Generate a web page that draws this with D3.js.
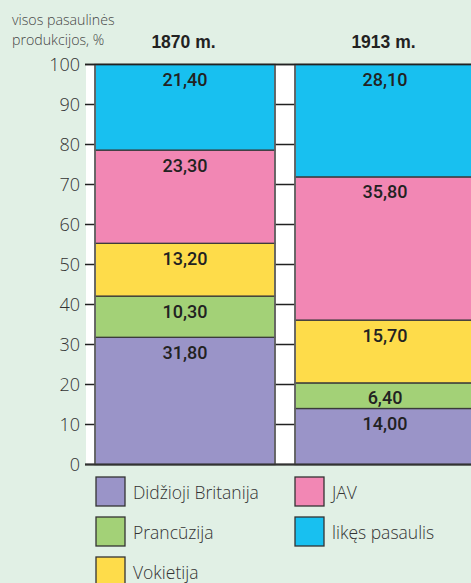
<!DOCTYPE html>
<html>
<head>
<meta charset="utf-8">
<script src="https://cdn.jsdelivr.net/npm/d3@7"></script>
<style>
  html, body { margin: 0; padding: 0; background: #e1f0e5; }
  svg { display: block; }
</style>
</head>
<body>
<div id="chart"></div>
<script>
// stulpelių kategorijos / bar categories
const YEARS = ['1870 m.', '1913 m.'];
// serijų pavadinimai (nuo apačios į viršų) / series, bottom to top
const SERIES = ['Didžioji Britanija', 'Prancūzija', 'Vokietija', 'JAV', 'likęs pasaulis'];
const COLORS = ['#9a94c8', '#a3d177', '#fedc4a', '#f287b4', '#18c0f0'];
// reikšmės pagal metus / values per year
const VALUES_1870 = [31.8, 10.3, 13.2, 23.3, 21.4];
const VALUES_1913 = [14.0, 6.4, 15.7, 35.8, 28.1];
const Y_TICKS = [0, 10, 20, 30, 40, 50, 60, 70, 80, 90, 100];

const W = 471, H = 583;
const plot = { left: 86, top: 64.5, bottom: 464.5, right: W };

const rows = YEARS.map(function (year, i) {
    const vals = i === 0 ? VALUES_1870 : VALUES_1913;
    const r = { year: year };
    SERIES.forEach(function (s, k) { r[s] = vals[k]; });
    return r;
});

const svg = d3.select('#chart').append('svg')
    .attr('width', W)
    .attr('height', H);

const x = d3.scaleBand()
    .domain(YEARS)
    .range([95, 475])
    .paddingInner(0.1)
    .paddingOuter(0);

const y = d3.scaleLinear()
    .domain([0, 100])
    .range([plot.bottom, plot.top]);

const color = d3.scaleOrdinal().domain(SERIES).range(COLORS);
const fmt = d3.formatLocale({ decimal: ',', thousands: ' ', grouping: [3], currency: ['', ''] }).format('.2f');

// baltas fonas / white plot area
svg.append('rect')
    .attr('x', plot.left)
    .attr('y', plot.top)
    .attr('width', plot.right - plot.left)
    .attr('height', plot.bottom - plot.top)
    .attr('fill', '#ffffff');

// tinklelio linijos / grid lines (visible in the gap and as ticks)
svg.append('g')
    .selectAll('line')
    .data(Y_TICKS)
    .join('line')
    .attr('x1', plot.left - 1)
    .attr('x2', plot.right)
    .attr('y1', function (d) { return y(d); })
    .attr('y2', function (d) { return y(d); })
    .attr('stroke', '#222')
    .attr('stroke-width', 1.3);

// ašies žymės / tick labels
svg.append('g')
    .selectAll('text')
    .data(Y_TICKS)
    .join('text')
    .attr('x', 80)
    .attr('y', function (d) { return y(d) + 6.5; })
    .attr('text-anchor', 'end')
    .attr('font-family', '"Open Sans", "Noto Sans", sans-serif')
    .attr('font-weight', 350)
    .attr('font-size', 18)
    .attr('fill', '#333')
    .text(function (d) { return d; });

// stulpeliai / stacked bars
const stacked = d3.stack().keys(SERIES)(rows);

const layers = svg.append('g')
    .selectAll('g')
    .data(stacked)
    .join('g')
    .attr('fill', function (d) { return color(d.key); });

layers.selectAll('rect')
    .data(function (d) { return d; })
    .join('rect')
    .attr('x', function (d) { return x(d.data.year); })
    .attr('y', function (d) { return y(d[1]); })
    .attr('width', x.bandwidth())
    .attr('height', function (d) { return y(d[0]) - y(d[1]); })
    .attr('stroke', '#3a3a3a')
    .attr('stroke-width', 1.3);

// stulpelių šoninės linijos / bar side edges
YEARS.forEach(function (year) {
    [x(year), x(year) + x.bandwidth()].forEach(function (xx) {
        svg.append('line')
            .attr('x1', xx).attr('x2', xx)
            .attr('y1', y(100)).attr('y2', y(0))
            .attr('stroke', '#666')
            .attr('stroke-width', 1.6);
    });
});

// viršutinė ir apatinė linijos / top and base lines
svg.append('line')
    .attr('x1', plot.left - 1).attr('x2', plot.right)
    .attr('y1', y(100)).attr('y2', y(100))
    .attr('stroke', '#222').attr('stroke-width', 1.5);
svg.append('line')
    .attr('x1', plot.left - 1).attr('x2', plot.right)
    .attr('y1', y(0)).attr('y2', y(0))
    .attr('stroke', '#333').attr('stroke-width', 2);

// reikšmių etiketės / value labels
layers.selectAll('text')
    .data(function (d) { return d; })
    .join('text')
    .attr('x', function (d) { return x(d.data.year) + x.bandwidth() / 2; })
    .attr('y', function (d) { return y(d[1]) + 21.5; })
    .attr('text-anchor', 'middle')
    .attr('font-family', 'Roboto, "Liberation Sans", Arial, sans-serif')
    .attr('font-weight', 500)
    .attr('font-size', 18)
    .attr('fill', '#222')
    .text(function (d) { return fmt(d[1] - d[0]); });

// metų antraštės / year headers
svg.append('g')
    .selectAll('text')
    .data(YEARS)
    .join('text')
    .attr('x', function (d) { return x(d) + x.bandwidth() / 2 - 1.5; })
    .attr('y', 48)
    .attr('text-anchor', 'middle')
    .attr('font-family', '"Liberation Sans", Arial, sans-serif')
    .attr('font-weight', 'bold')
    .attr('font-size', 17.5)
    .attr('fill', '#222')
    .text(function (d) { return d; });

// ašies pavadinimas / axis title
const axisTitle = svg.append('text')
    .attr('font-family', '"Open Sans", "Noto Sans", sans-serif')
    .attr('font-weight', 350)
    .attr('font-size', 14.2)
    .attr('fill', '#444');
axisTitle.append('tspan').attr('x', 12).attr('y', 25).text('visos pasaulinės');
axisTitle.append('tspan').attr('x', 12).attr('y', 44.5).text('produkcijos, %');

// legenda / legend
const legend = svg.append('g')
    .selectAll('g')
    .data(SERIES)
    .join('g')
    .attr('transform', function (d, i) {
        const col = i < 3 ? 0 : 1;
        const row = i < 3 ? i : i - 3;
        return 'translate(' + (96 + col * 199) + ',' + (477 + row * 40) + ')';
    });

legend.append('rect')
    .attr('width', 29)
    .attr('height', 29)
    .attr('fill', function (d) { return color(d); })
    .attr('stroke', '#333')
    .attr('stroke-width', 1.3);

legend.append('text')
    .attr('x', 37)
    .attr('y', 22)
    .attr('font-family', '"Open Sans", "Noto Sans", sans-serif')
    .attr('font-weight', 350)
    .attr('font-size', 17.5)
    .attr('fill', '#333')
    .text(function (d) { return d; });
</script>
</body>
</html>
